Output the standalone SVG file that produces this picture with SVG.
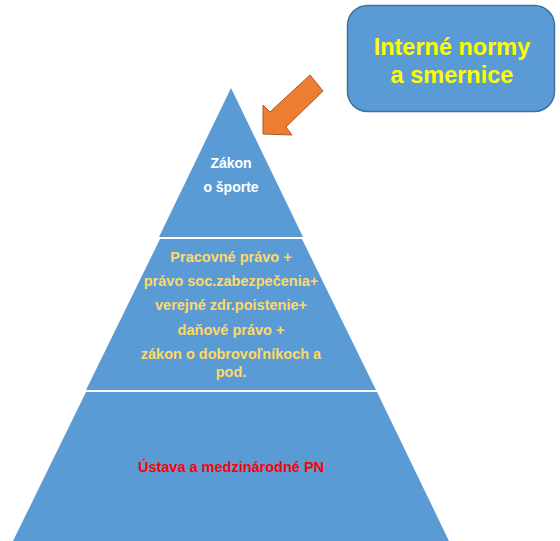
<svg xmlns="http://www.w3.org/2000/svg" width="560" height="541" viewBox="0 0 560 541">
<style>
.band{fill:#5B9BD5;}
.t{font-family:"Liberation Sans",Arial,sans-serif;font-weight:bold;text-anchor:middle;}
.w{fill:#FFFFFF;font-size:14px;}
.y{fill:#FFD966;font-size:14.5px;}
.r{fill:#FF0000;font-size:14.5px;}
.c{fill:#FFFF00;font-size:23.5px;}
</style>
<rect width="560" height="541" fill="#FFFFFF"/>
<g id="top">
<polygon class="band" points="231,88 303,237 159,237"/>
<text class="t w" x="231" y="168">Zákon</text>
<text class="t w" x="231" y="192">o športe</text>
</g>
<g id="middle">
<polygon class="band" points="160,239 302,239 376,390 86,390"/>
<text class="t y" x="231" y="262">Pracovné právo +</text>
<text class="t y" x="231" y="286">právo soc.zabezpečenia+</text>
<text class="t y" x="231" y="310">verejné zdr.poistenie+</text>
<text class="t y" x="231" y="335">daňové právo +</text>
<text class="t y" x="231" y="359">zákon o dobrovoľníkoch a</text>
<text class="t y" x="231" y="377">pod.</text>
</g>
<g id="bottom">
<polygon class="band" points="86,392 377,392 449,541 13,541"/>
<text class="t r" x="231" y="472">Ústava a medzinárodné PN</text>
</g>
<g id="callout">
<rect x="347.5" y="5.5" width="207" height="106" rx="20" ry="20" fill="#5B9BD5" stroke="#41719C" stroke-width="1.5"/>
<text class="t c" x="452" y="55">Interné normy</text>
<text class="t c" x="452" y="83">a smernice</text>
</g>
<g id="connectors">
<polygon points="263,134 263,105 270,112 310,75 323,91 286,127 292,135" fill="#ED7D31" stroke="#AE5A21" stroke-width="1"/>
</g>
</svg>
